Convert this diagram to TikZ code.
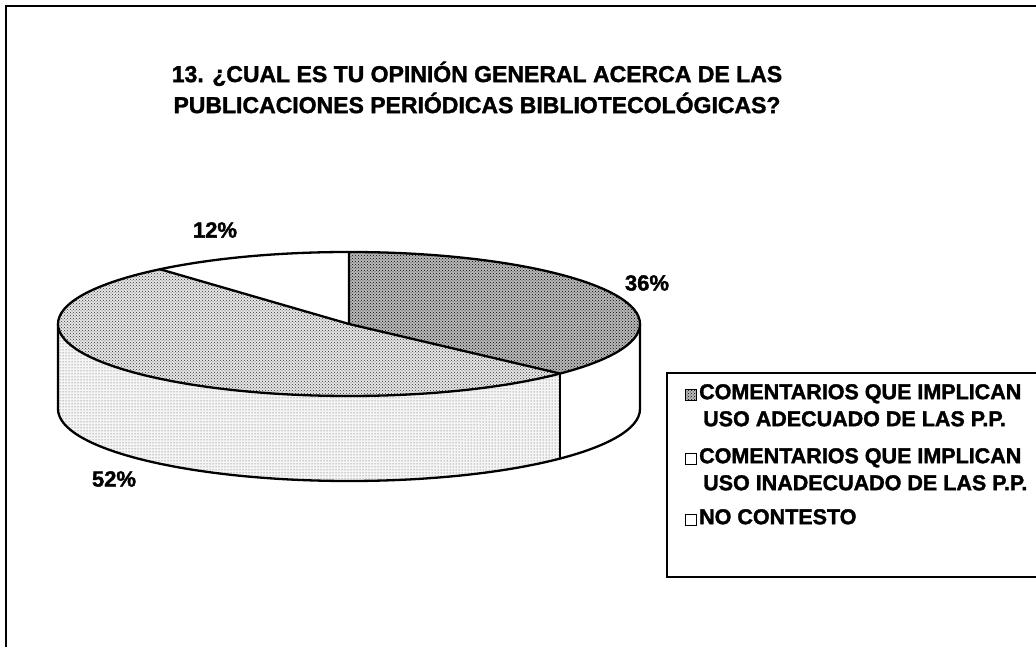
\documentclass[tikz,border=0pt]{standalone}
\usepackage{fontspec}
\setmainfont[BoldFeatures={FakeBold=1.6}]{Liberation Sans}
\usetikzlibrary{patterns,calc}
\begin{document}
\begin{tikzpicture}[x=1pt,y=1pt,
  outline/.style={line width=2.3pt, line join=round},
  topA/.style={fill=gray!55, postaction={pattern=crosshatch dots, pattern color=black}},
  topB/.style={fill=gray!20, postaction={pattern=crosshatch dots, pattern color=black!80}},
  sideB/.style={fill=gray!8, postaction={pattern=dots, pattern color=black!70}},
  plain/.style={fill=white},
  pct/.style={font=\fontsize{22}{26}\selectfont\bfseries, inner sep=0pt},
  legtxt/.style={font=\fontsize{21.5}{27}\selectfont\bfseries, inner sep=0pt, align=left, anchor=north west},
  marker/.style={draw=black, line width=1.2pt, minimum size=11pt, inner sep=0pt}
]
\useasboundingbox (0,0) rectangle (1036,647);
% outer frame (extends past right and bottom edges)
\draw[line width=1.4pt] (6,-20) -- (6,641) -- (1060,641);

% title
\node[font=\fontsize{23}{31}\selectfont\bfseries, align=center, inner sep=0pt] (title) at (477,559.5)
  {13. ¿CUAL ES TU OPINIÓN GENERAL ACERCA DE LAS\\PUBLICACIONES PERIÓDICAS BIBLIOTECOLÓGICAS?};

% pie geometry
\def\rx{291}\def\ry{72}\def\dep{85}
\coordinate (T) at (349,323);
\coordinate (B) at (349,238);

% side faces
\path[sideB] ($(T)+(180:\rx pt and \ry pt)$) arc[start angle=180, end angle=316.5, x radius=\rx, y radius=\ry]
  -- ++(0,-\dep) arc[start angle=316.5, end angle=180, x radius=\rx, y radius=\ry] -- cycle;
\path[plain] ($(T)+(316.5:\rx pt and \ry pt)$) arc[start angle=316.5, end angle=360, x radius=\rx, y radius=\ry]
  -- ++(0,-\dep) arc[start angle=360, end angle=316.5, x radius=\rx, y radius=\ry] -- cycle;
\draw[outline] ($(T)+(180:\rx pt and \ry pt)$) -- ++(0,-\dep)
  arc[start angle=180, end angle=360, x radius=\rx, y radius=\ry] -- ++(0,\dep);
\draw[outline] ($(T)+(316.5:\rx pt and \ry pt)$) -- ++(0,-\dep);

% top faces
\path[topA] (T) -- ++(90:\rx pt and \ry pt) arc[start angle=90, end angle=-43.5, x radius=\rx, y radius=\ry] -- cycle;
\path[topB] (T) -- ++(-43.5:\rx pt and \ry pt) arc[start angle=-43.5, end angle=-229.5, x radius=\rx, y radius=\ry] -- cycle;
\path[plain] (T) -- ++(130.5:\rx pt and \ry pt) arc[start angle=130.5, end angle=90, x radius=\rx, y radius=\ry] -- cycle;
\draw[outline] (T) ellipse[x radius=\rx, y radius=\ry];
\draw[outline] ($(T)+(90:\rx pt and \ry pt)$) -- (T) -- ($(T)+(-43.5:\rx pt and \ry pt)$);
\draw[outline] (T) -- ($(T)+(130.5:\rx pt and \ry pt)$);

% percentage labels
\node[pct] (p12) at (215,417) {12\%};
\node[pct] (p36) at (647,364) {36\%};
\node[pct] (p52) at (114,168) {52\%};

% legend
\draw[line width=1.8pt] (1060,274) -- (667,274) -- (667,70) -- (1060,70);
\node[marker, fill=gray!55, postaction={pattern=crosshatch dots}] (m1) at (691,252) {};
\node[marker, fill=white] (m2) at (691,188) {};
\node[marker, fill=white] (m3) at (691,127) {};
\node[legtxt] (l1) at (699,263) {COMENTARIOS QUE IMPLICAN\\\hspace{4pt}USO ADECUADO DE LAS P.P.};
\node[legtxt] (l2) at (699,199) {COMENTARIOS QUE IMPLICAN\\\hspace{4pt}USO INADECUADO DE LAS P.P.};
\node[legtxt] (l3) at (699,138) {NO CONTESTO};
\end{tikzpicture}
\end{document}
